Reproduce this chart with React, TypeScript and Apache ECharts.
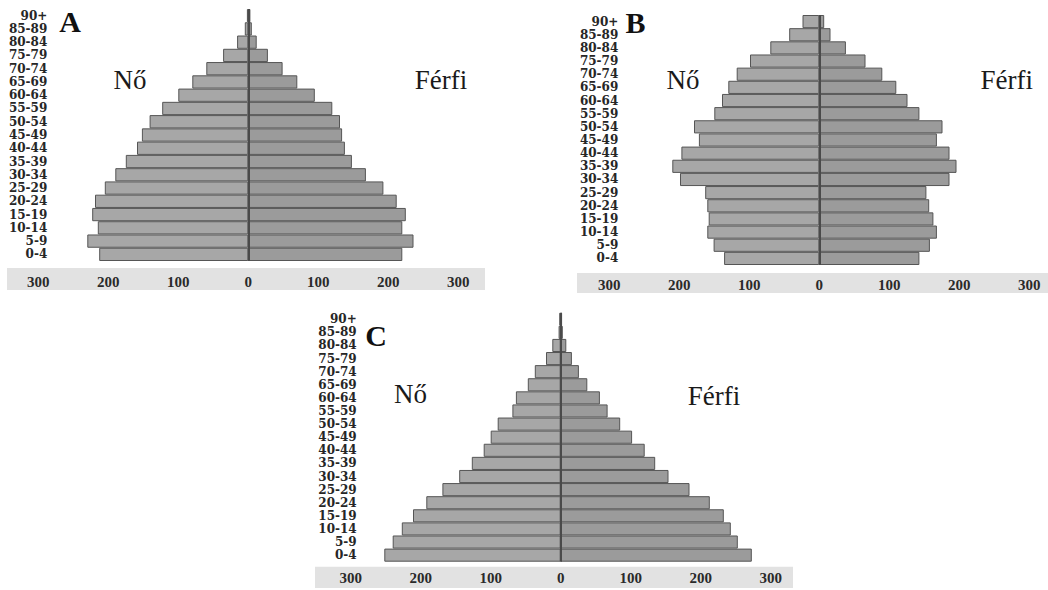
import React, { useEffect, useRef } from "react";
import * as echarts from "echarts";

const AGES = ["0-4", "5-9", "10-14", "15-19", "20-24", "25-29", "30-34", "35-39", "40-44", "45-49", "50-54", "55-59", "60-64", "65-69", "70-74", "75-79", "80-84", "85-89", "90+"];

const A_FEMALE = [213, 230, 215, 223, 219, 205, 190, 175, 159, 152, 141, 123, 100, 80, 60, 36, 16, 5, 2];
const A_MALE = [220, 236, 220, 225, 212, 193, 168, 148, 138, 134, 131, 120, 95, 70, 49, 28, 12, 5, 3];

const B_FEMALE = [136, 151, 160, 158, 160, 163, 199, 210, 197, 172, 179, 150, 139, 130, 118, 99, 70, 43, 24];
const B_MALE = [143, 158, 168, 163, 157, 153, 186, 196, 186, 168, 176, 143, 126, 110, 90, 66, 38, 16, 7];

const C_FEMALE = [252, 240, 227, 211, 192, 169, 145, 127, 110, 100, 90, 69, 64, 47, 37, 21, 12, 3, 2];
const C_MALE = [273, 253, 243, 233, 213, 184, 154, 135, 120, 102, 85, 67, 56, 38, 26, 16, 8, 3, 2];

const PANELS = [
  { letter: "A", female: A_FEMALE, male: A_MALE },
  { letter: "B", female: B_FEMALE, male: B_MALE },
  { letter: "C", female: C_FEMALE, male: C_MALE },
];

const FEMALE_LABEL = "Nő";
const MALE_LABEL = "Férfi";

// layout (px)
const LAYOUT = [
  { left: 38.3, top: 9, height: 252, yMargin: -9, xMargin: 13, band: [7, 268, 478, 22], letter: [70, 21], fem: [130, 80], mal: [441, 80] },
  { left: 609.3, top: 15, height: 250, yMargin: -9, xMargin: 12, band: [577, 273, 471, 20], letter: [635.5, 22], fem: [683, 80], mal: [1006.7, 80] },
  { left: 350.7, top: 312.7, height: 249, yMargin: -6, xMargin: 9, band: [315, 566.7, 478, 21.3], letter: [376, 335], fem: [410.5, 394], mal: [714, 396] },
];

const SERIF = "'Liberation Serif', 'Times New Roman', serif";

export default function App() {
  const ref = useRef<HTMLDivElement>(null);

  useEffect(() => {
    if (!ref.current) return;
    const chart = echarts.init(ref.current, undefined, { renderer: "svg" });

    const grid: any[] = [];
    const xAxis: any[] = [];
    const yAxis: any[] = [];
    const series: any[] = [];
    const graphic: any[] = [];

    PANELS.forEach((p, i) => {
      const L = LAYOUT[i];
      grid.push({ left: L.left, top: L.top, width: 420, height: L.height, containLabel: false });
      xAxis.push({
        type: "value",
        gridIndex: i,
        min: -300,
        max: 300,
        interval: 100,
        axisLine: { show: false },
        axisTick: { show: false },
        splitLine: { show: false },
        axisLabel: {
          margin: L.xMargin,
          formatter: (v: number) => String(Math.abs(v)),
          fontFamily: SERIF,
          fontWeight: "bold",
          fontSize: 15,
          color: "#2a2a2a",
        },
      });
      yAxis.push({
        type: "category",
        gridIndex: i,
        data: AGES,
        axisLine: { show: false },
        axisTick: { show: false },
        splitLine: { show: false },
        axisLabel: {
          margin: L.yMargin,
          interval: 0,
          fontFamily: "'DejaVu Serif', serif",
          fontWeight: "bold",
          fontSize: 12,
          color: "#262626",
        },
      });
      series.push({
        type: "bar",
        name: FEMALE_LABEL + " " + p.letter,
        xAxisIndex: i,
        yAxisIndex: i,
        stack: "pop" + i,
        barCategoryGap: "0%",
        data: p.female.map((v) => -v),
        itemStyle: { color: "#a7a7a7", borderColor: "#555555", borderWidth: 1 },
      });
      series.push({
        type: "bar",
        name: MALE_LABEL + " " + p.letter,
        xAxisIndex: i,
        yAxisIndex: i,
        stack: "pop" + i,
        barCategoryGap: "0%",
        data: p.male,
        itemStyle: { color: "#9b9b9b", borderColor: "#555555", borderWidth: 1 },
        markLine: {
          silent: true,
          symbol: "none",
          label: { show: false },
          lineStyle: { color: "#4a4a4a", width: 2, type: "solid" },
          data: [{ xAxis: 0 }],
        },
      });
      graphic.push({
        type: "rect",
        z: -10,
        shape: { x: L.band[0], y: L.band[1], width: L.band[2], height: L.band[3] },
        style: { fill: "#e2e2e2" },
      });
      graphic.push({
        type: "text",
        style: {
          x: L.letter[0],
          y: L.letter[1],
          text: p.letter,
          fontFamily: SERIF,
          fontWeight: "bold",
          fontSize: 30,
          fill: "#111",
          align: "center",
          verticalAlign: "middle",
        },
      });
      graphic.push({
        type: "text",
        style: {
          x: L.fem[0],
          y: L.fem[1],
          text: FEMALE_LABEL,
          fontFamily: SERIF,
          fontSize: 27,
          fill: "#1a1a1a",
          align: "center",
          verticalAlign: "middle",
        },
      });
      graphic.push({
        type: "text",
        style: {
          x: L.mal[0],
          y: L.mal[1],
          text: MALE_LABEL,
          fontFamily: SERIF,
          fontSize: 27,
          fill: "#1a1a1a",
          align: "center",
          verticalAlign: "middle",
        },
      });
    });

    chart.setOption({
      animation: false,
      backgroundColor: "#ffffff",
      grid,
      xAxis,
      yAxis,
      series,
      graphic,
    });

    return () => chart.dispose();
  }, []);

  return (
    <div
      ref={ref}
      style={{ position: "fixed", left: 0, top: 0, width: 1048, height: 590 }}
    />
  );
}
